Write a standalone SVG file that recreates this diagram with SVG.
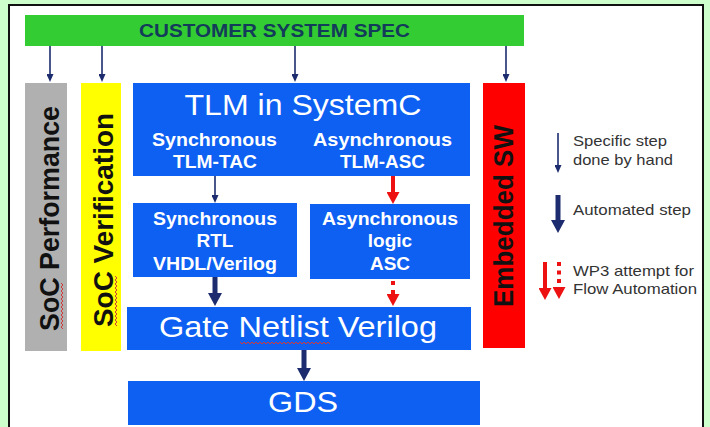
<svg xmlns="http://www.w3.org/2000/svg" width="710" height="427" viewBox="0 0 710 427">
  <style>
    .sans { font-family: "Liberation Sans", Arial, sans-serif; }
    .blue { fill: #0d60f2; }
    .wt { fill: #ffffff; }
    .big { font-size: 30px; }
    .mid { font-size: 19px; font-weight: bold; }
    .side { font-size: 27px; font-weight: bold; fill: #111111; }
    .leg { font-size: 15px; fill: #333333; }
    .thin { stroke: #1c2c6e; stroke-width: 1.6; fill: none; }
    .thick { stroke: #1c2c6e; stroke-width: 5; fill: none; }
    .red { stroke: #ee1111; stroke-width: 4; fill: none; }
    .wavy { stroke: #d03a3a; stroke-width: 1; fill: none; }
  </style>
  <defs>
    <marker id="hThin" markerUnits="userSpaceOnUse" viewBox="0 0 8 7" refX="0" refY="3.5" markerWidth="8" markerHeight="7" orient="auto">
      <path d="M0,0 L8,3.5 L0,7 z" fill="#1c2c6e"/>
    </marker>
    <marker id="hThick" markerUnits="userSpaceOnUse" viewBox="0 0 13 14" refX="0" refY="7" markerWidth="13" markerHeight="14" orient="auto">
      <path d="M0,0 L13,7 L0,14 z" fill="#1c2c6e"/>
    </marker>
    <marker id="hRed" markerUnits="userSpaceOnUse" viewBox="0 0 12 13" refX="0" refY="6.5" markerWidth="12" markerHeight="13" orient="auto">
      <path d="M0,0 L12,6.5 L0,13 z" fill="#ee1111"/>
    </marker>
  </defs>

  <!-- page background and framed panel -->
  <rect x="0" y="0" width="710" height="427" fill="#ccffcc"/>
  <rect x="9" y="5" width="694" height="430" fill="#ffffff" stroke="#111111" stroke-width="2"/>

  <g id="spec">
    <rect x="25" y="15" width="499" height="31" fill="#33cc33"/>
    <text class="sans" x="274.5" y="37" font-size="19" font-weight="bold" fill="#133b5a" text-anchor="middle" textLength="271" lengthAdjust="spacingAndGlyphs">CUSTOMER SYSTEM SPEC</text>
  </g>

  <g id="soc-performance">
    <rect x="25" y="83" width="42" height="268" fill="#b0b0b0"/>
    <text class="sans side" transform="translate(59,218.5) rotate(-90)" text-anchor="middle" textLength="225" lengthAdjust="spacingAndGlyphs">SoC Performance</text>
    <path class="wavy" d="M61,283 l2,2 l-2,2 l2,2 l-2,2 l2,2 l-2,2 l2,2 l-2,2 l2,2 l-2,2 l2,2 l-2,2 l2,2 l-2,2 l2,2 l-2,2 l2,2 l-2,2 l2,2 l-2,2 l2,2 l-2,2 l2,2"/>
  </g>

  <g id="soc-verification">
    <rect x="81" y="83" width="40" height="268" fill="#ffff00"/>
    <text class="sans side" transform="translate(113,220) rotate(-90)" text-anchor="middle" textLength="214" lengthAdjust="spacingAndGlyphs">SoC Verification</text>
    <path class="wavy" d="M115,276 l2,2 l-2,2 l2,2 l-2,2 l2,2 l-2,2 l2,2 l-2,2 l2,2 l-2,2 l2,2 l-2,2 l2,2 l-2,2 l2,2 l-2,2 l2,2 l-2,2 l2,2 l-2,2 l2,2 l-2,2 l2,2 l-2,2 l2,2"/>
  </g>

  <g id="tlm">
    <rect class="blue" x="133" y="83" width="337" height="93"/>
    <text class="sans big wt" x="303" y="115" text-anchor="middle" textLength="237" lengthAdjust="spacingAndGlyphs">TLM in SystemC</text>
    <text class="sans mid wt" x="214.5" y="146" text-anchor="middle" textLength="125" lengthAdjust="spacingAndGlyphs">Synchronous</text>
    <text class="sans mid wt" x="215" y="168" text-anchor="middle" textLength="84" lengthAdjust="spacingAndGlyphs">TLM-TAC</text>
    <text class="sans mid wt" x="382.5" y="146" text-anchor="middle" textLength="139" lengthAdjust="spacingAndGlyphs">Asynchronous</text>
    <text class="sans mid wt" x="382.5" y="168" text-anchor="middle" textLength="85" lengthAdjust="spacingAndGlyphs">TLM-ASC</text>
  </g>

  <g id="sync-rtl">
    <rect class="blue" x="133" y="203" width="164" height="74"/>
    <text class="sans mid wt" x="215" y="225" text-anchor="middle" textLength="124" lengthAdjust="spacingAndGlyphs">Synchronous</text>
    <text class="sans mid wt" x="215" y="247" text-anchor="middle">RTL</text>
    <text class="sans mid wt" x="215" y="270" text-anchor="middle" textLength="124" lengthAdjust="spacingAndGlyphs">VHDL/Verilog</text>
  </g>

  <g id="async-logic">
    <rect class="blue" x="310" y="204" width="160" height="75"/>
    <text class="sans mid wt" x="390" y="225" text-anchor="middle" textLength="136" lengthAdjust="spacingAndGlyphs">Asynchronous</text>
    <text class="sans mid wt" x="390" y="247" text-anchor="middle">logic</text>
    <text class="sans mid wt" x="390" y="270" text-anchor="middle">ASC</text>
  </g>

  <g id="gate-netlist">
    <rect class="blue" x="127" y="307" width="344" height="43"/>
    <text class="sans wt" x="298" y="337" font-size="29" text-anchor="middle" textLength="278" lengthAdjust="spacingAndGlyphs">Gate Netlist Verilog</text>
    <path class="wavy" d="M240,342 l2,2 l2,-2 l2,2 l2,-2 l2,2 l2,-2 l2,2 l2,-2 l2,2 l2,-2 l2,2 l2,-2 l2,2 l2,-2 l2,2 l2,-2 l2,2 l2,-2 l2,2 l2,-2 l2,2 l2,-2 l2,2 l2,-2 l2,2 l2,-2 l2,2 l2,-2 l2,2 l2,-2 l2,2 l2,-2 l2,2 l2,-2 l2,2 l2,-2 l2,2 l2,-2 l2,2 l2,-2 l2,2 l2,-2 l2,2 l2,-2 l2,2"/>
  </g>

  <g id="gds">
    <rect class="blue" x="128" y="381" width="352" height="44"/>
    <text class="sans wt" x="303" y="412" font-size="29" text-anchor="middle" textLength="70" lengthAdjust="spacingAndGlyphs">GDS</text>
  </g>

  <g id="embedded-sw">
    <rect x="483" y="83" width="42" height="265" fill="#ff0000"/>
    <text class="sans side" transform="translate(513,216) rotate(-90)" text-anchor="middle" textLength="182" lengthAdjust="spacingAndGlyphs">Embedded SW</text>
  </g>

  <g id="connectors">
    <line class="thin" x1="50" y1="46" x2="50" y2="74" marker-end="url(#hThin)"/>
    <line class="thin" x1="102" y1="46" x2="102" y2="74" marker-end="url(#hThin)"/>
    <line class="thin" x1="295" y1="46" x2="295" y2="74" marker-end="url(#hThin)"/>
    <line class="thin" x1="506" y1="46" x2="506" y2="74" marker-end="url(#hThin)"/>
    <line class="thin" x1="215" y1="176" x2="215" y2="195" marker-end="url(#hThin)"/>
    <line class="red" x1="393" y1="176" x2="393" y2="192" marker-end="url(#hRed)"/>
    <line class="thick" x1="215" y1="277" x2="215" y2="293" marker-end="url(#hThick)"/>
    <line class="red" x1="393" y1="281" x2="393" y2="294" stroke-dasharray="4 5" marker-end="url(#hRed)"/>
    <line class="thick" x1="304" y1="350" x2="304" y2="368" marker-end="url(#hThick)"/>
  </g>

  <g id="legend">
    <line class="thin" x1="558" y1="133" x2="558" y2="165" marker-end="url(#hThin)"/>
    <text class="sans leg" x="573" y="146" textLength="94" lengthAdjust="spacingAndGlyphs">Specific step</text>
    <text class="sans leg" x="573" y="165" textLength="100" lengthAdjust="spacingAndGlyphs">done by hand</text>
    <line class="thick" x1="558" y1="195" x2="558" y2="220" marker-end="url(#hThick)"/>
    <text class="sans leg" x="573" y="215" textLength="118" lengthAdjust="spacingAndGlyphs">Automated step</text>
    <line class="red" x1="545" y1="262" x2="545" y2="288" marker-end="url(#hRed)"/>
    <line class="red" x1="559" y1="262" x2="559" y2="287" stroke-dasharray="4 4.5" marker-end="url(#hRed)"/>
    <text class="sans leg" x="573" y="276" textLength="121" lengthAdjust="spacingAndGlyphs">WP3 attempt for</text>
    <text class="sans leg" x="573" y="294" textLength="124" lengthAdjust="spacingAndGlyphs">Flow Automation</text>
  </g>
</svg>
